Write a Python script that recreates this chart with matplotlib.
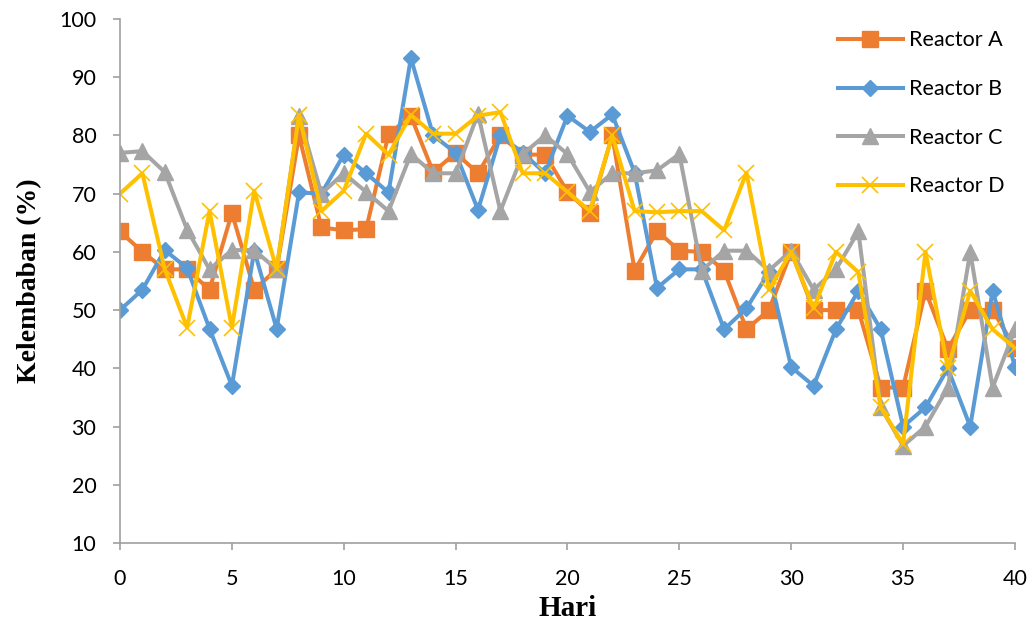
import numpy as np
import matplotlib.pyplot as plt

hari = list(range(0, 41))

reactor_a = [63.5, 60, 57, 57, 53.5, 66.7, 53.5, 57, 80, 64.2,
             63.7, 63.9, 80.2, 83.3, 73.7, 77, 73.5, 80, 76.7, 76.7,
             70.3, 66.7, 80, 56.8, 63.6, 60.2, 60, 56.8, 46.7, 50,
             60, 50, 50, 50, 36.7, 36.7, 53.3, 43.3, 50, 50, 43.5]
reactor_b = [50, 53.5, 60.3, 57.2, 46.8, 37, 60.2, 46.8, 70.2, 70,
             76.7, 73.5, 70.2, 93.3, 80, 77, 67.2, 80, 77, 73.5,
             83.4, 80.6, 83.6, 73.6, 53.8, 57, 57, 46.7, 50.3, 56.5,
             40.2, 37, 46.7, 53.3, 46.7, 30, 33.3, 40, 30, 53.3, 40.3]
reactor_c = [77, 77.3, 73.7, 63.8, 57, 60.3, 60.3, 57, 83.4, 70,
             73.5, 70.3, 67, 76.8, 73.5, 73.5, 83.7, 67, 76.8, 80,
             76.8, 70.3, 73.5, 73.5, 74, 76.8, 56.8, 60.2, 60.2, 56.8,
             60.2, 53.5, 57, 63.5, 33.3, 26.7, 30, 36.7, 60, 36.7, 46.7]
reactor_d = [70, 73.5, 57, 47, 67, 47, 70.5, 57, 83.5, 67,
             70.5, 80.3, 76.7, 83.5, 80.3, 80.3, 83.4, 84, 73.5, 73.5,
             70.3, 67, 80, 67, 66.8, 67, 67, 63.7, 73.6, 53.5,
             60, 50.3, 60, 56.5, 33.3, 27, 60, 40, 53.3, 46.7, 43.5]

plt.rcParams['font.family'] = ['Lato', 'DejaVu Sans']

fig = plt.figure(figsize=(10.32, 6.37), dpi=100)
ax = fig.add_axes([0.1163, 0.1476, 0.8672, 0.8226])

ax.plot(hari, reactor_a, color="#ED7D31", lw=2.9, marker="s", ms=11, label="Reactor A")
ax.plot(hari, reactor_b, color="#5B9BD5", lw=2.9, marker="D", ms=8.5, label="Reactor B")
ax.plot(hari, reactor_c, color="#A5A5A5", lw=2.9, marker="^", ms=11, label="Reactor C")
ax.plot(hari, reactor_d, color="#FFC000", lw=2.9, marker="x", ms=12, mew=1.2, label="Reactor D")

ax.set_xlim(0, 40)
ax.set_ylim(10, 100)
ax.set_xticks(range(0, 41, 5))
ax.set_yticks(range(10, 101, 10))
for s in ["top", "right"]:
    ax.spines[s].set_visible(False)
for s in ["left", "bottom"]:
    ax.spines[s].set_color("#A0A0A0")
    ax.spines[s].set_linewidth(1.2)
ax.tick_params(axis="both", labelsize=15.5, color="#A0A0A0", length=5, width=1.2)
ax.tick_params(axis="y", pad=12)
ax.tick_params(axis="x", pad=14)

ax.set_xlabel("Hari", family="Liberation Serif", fontweight="bold", fontsize=21, labelpad=4)
ax.set_ylabel("Kelembaban (%)", family="Liberation Serif", fontweight="bold", fontsize=20, labelpad=12)

ax.legend(loc="upper right", bbox_to_anchor=(1.01, 1.015), frameon=False, fontsize=15.5,
          handlelength=3.0, labelspacing=1.33, handletextpad=0.3)

fig.savefig("out.png", dpi=100)
